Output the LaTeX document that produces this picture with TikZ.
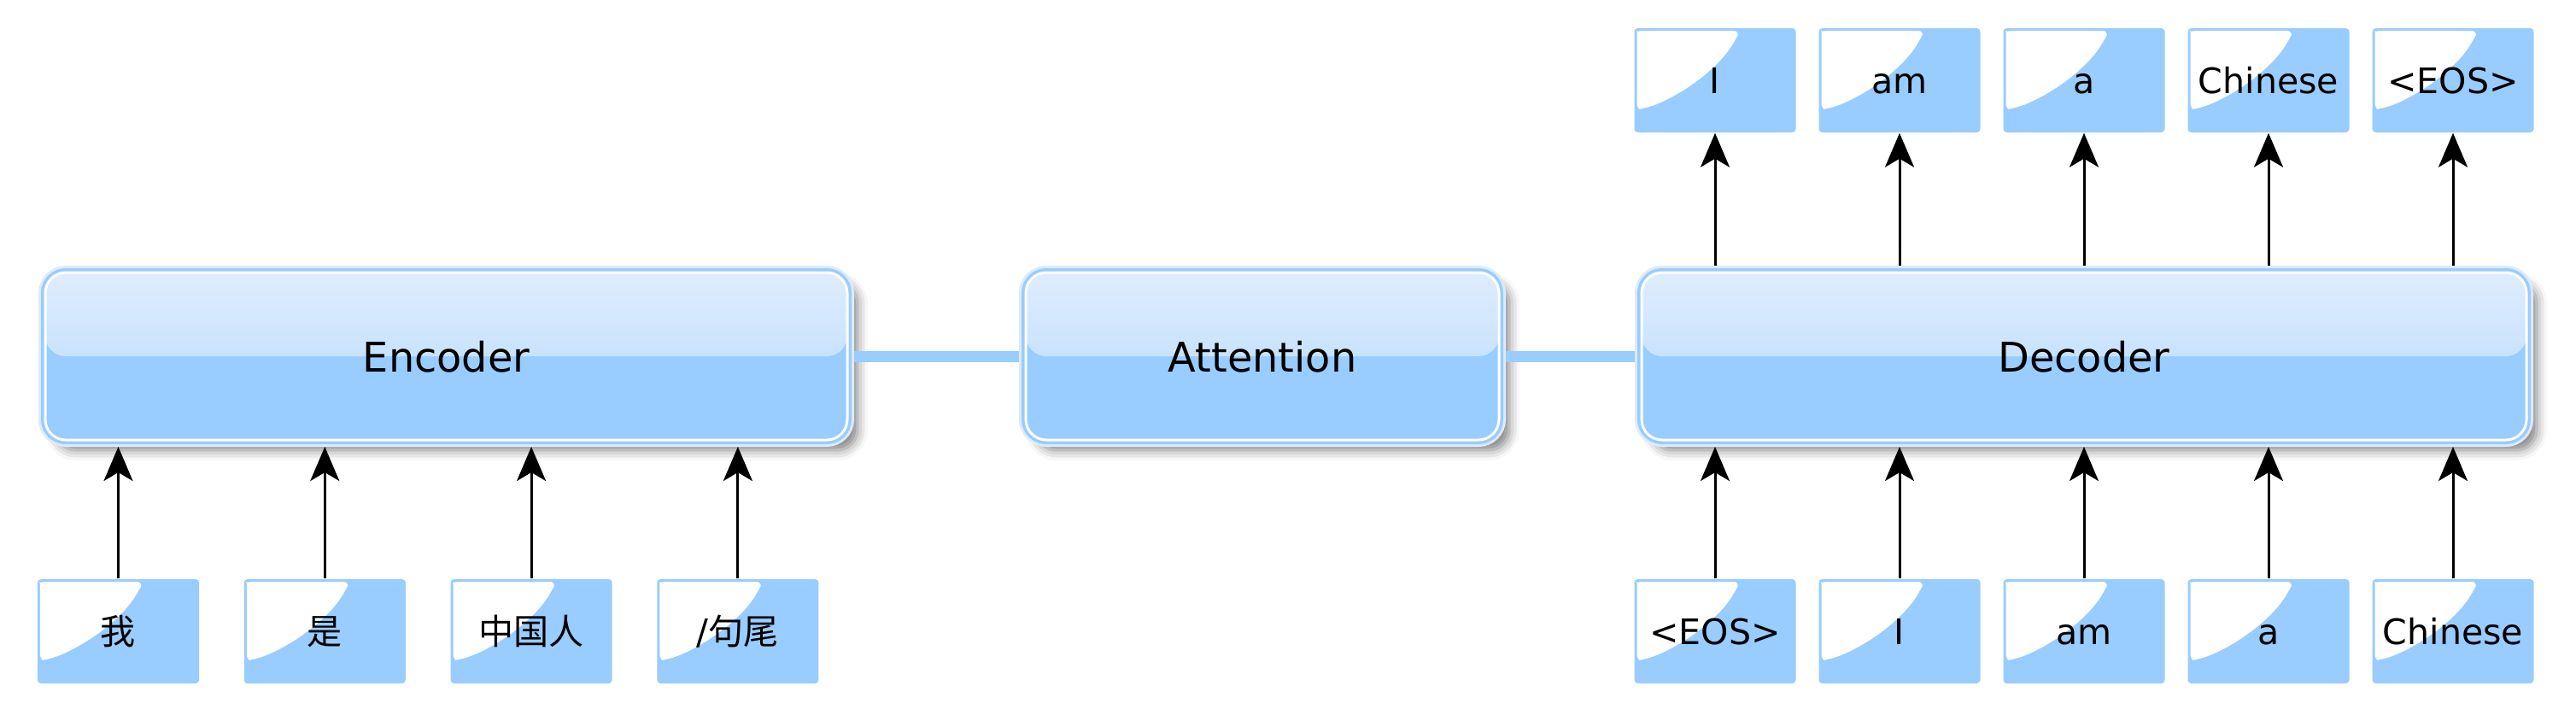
\documentclass[tikz,border=0pt]{standalone}
\usepackage{fontspec}
\setmainfont{DejaVu Sans}
\newfontfamily\cjk{Noto Sans CJK SC}
\usetikzlibrary{positioning,arrows.meta,shadows.blur}

\definecolor{boxblue}{HTML}{99CCFF}
\definecolor{paleblue}{HTML}{DCEBFD}
\definecolor{topblue}{HTML}{DFEDFD}
\definecolor{midblue}{HTML}{B3D8FE}

\tikzset{
  block/.style={rectangle, rounded corners=0.24cm, outer sep=0.08cm,
    minimum height=1.96cm, fill=boxblue,
    font=\fontsize{13.6}{16}\selectfont, text height=0.4cm, text depth=0.04cm,
    blur shadow={shadow xshift=0.12cm, shadow yshift=-0.12cm,
      shadow blur radius=0.12cm, shadow opacity=50},
    preaction={draw=paleblue, line width=1.6mm},
    preaction={draw=boxblue, line width=1.0mm},
    draw=white, line width=0.3mm,
    path picture={
      \shade[top color=topblue, bottom color=midblue]
        (path picture bounding box.north west) rectangle (path picture bounding box.east);
    }},
  word/.style={rectangle, fill=boxblue, rounded corners=0.04cm,
    minimum width=1.89cm, minimum height=1.22cm, inner sep=0pt,
    font=\fontsize{11.7}{14}\selectfont, text height=0.35cm, text depth=0.05cm,
    path picture={
      \fill[white] ([shift={(0.03,-0.85)}]path picture bounding box.north west)
        -- ++(0,0.78) .. controls +(0,0.03) .. ++(0.03,0.04)
        -- ++(1.07,0) .. controls +(0.07,0) and +(0.03,0.05) .. ++(0.06,-0.09)
        .. controls +(-0.22,-0.40) and +(0.32,0.08) .. ++(-1.09,-0.82)
        .. controls +(-0.05,-0.01) and +(0,-0.05) .. ++(-0.07,0.09) -- cycle;
    }},
  uparrow/.style={-{Stealth[length=0.4cm, width=0.34cm, inset=0.1cm]}, line width=0.03cm},
  link/.style={draw=boxblue, line width=0.13cm}
}

\begin{document}
\begin{tikzpicture}[node distance=2.418cm,on grid]
            \useasboundingbox (0,0) rectangle (30.16,8.36);
            % blocks
            \node[block, minimum width=9.39cm] (enc) at (5.225,4.19) {Encoder};
            \node[block, minimum width=5.54cm] (att) [right=9.555cm of enc] {Attention};
            \node[block, minimum width=10.36cm] (dec) [right=9.62cm of att] {Decoder};
            \draw[link] (enc) -- (att);
            \draw[link] (att) -- (dec);
            % source words
            \node[word] (x1) at (1.385,0.97) {\cjk 我};
            \node[word] (x2) [right=of x1] {\cjk 是};
            \node[word] (x3) [right=of x2] {\cjk 中国人};
            \node[word] (x4) [right=of x3] {/\cjk 句尾};
            % decoder inputs
            \node[word] (in3) [below=3.22cm of dec] {am};
            \node[word] (in2) [left=2.16cm of in3] {I};
            \node[word] (in1) [left=2.16cm of in2] {<EOS>};
            \node[word] (in4) [right=2.16cm of in3] {a};
            \node[word] (in5) [right=2.16cm of in4] {Chinese};
            % decoder outputs
            \node[word] (out3) [above=3.23cm of dec] {a};
            \node[word] (out2) [left=2.16cm of out3] {am};
            \node[word] (out1) [left=2.16cm of out2] {I};
            \node[word] (out4) [right=2.16cm of out3] {Chinese};
            \node[word] (out5) [right=2.16cm of out4] {<EOS>};
            \draw[uparrow] (x1) -- (x1 |- enc.south);
            \draw[uparrow] (x2) -- (x2 |- enc.south);
            \draw[uparrow] (x3) -- (x3 |- enc.south);
            \draw[uparrow] (x4) -- (x4 |- enc.south);
            \draw[uparrow] (in1) -- (in1 |- dec.south);
            \draw[uparrow] (in2) -- (in2 |- dec.south);
            \draw[uparrow] (in3) -- (in3 |- dec.south);
            \draw[uparrow] (in4) -- (in4 |- dec.south);
            \draw[uparrow] (in5) -- (in5 |- dec.south);
            \draw[uparrow] (out1 |- dec.north) -- (out1);
            \draw[uparrow] (out2 |- dec.north) -- (out2);
            \draw[uparrow] (out3 |- dec.north) -- (out3);
            \draw[uparrow] (out4 |- dec.north) -- (out4);
            \draw[uparrow] (out5 |- dec.north) -- (out5);
        \end{tikzpicture}
\end{document}
